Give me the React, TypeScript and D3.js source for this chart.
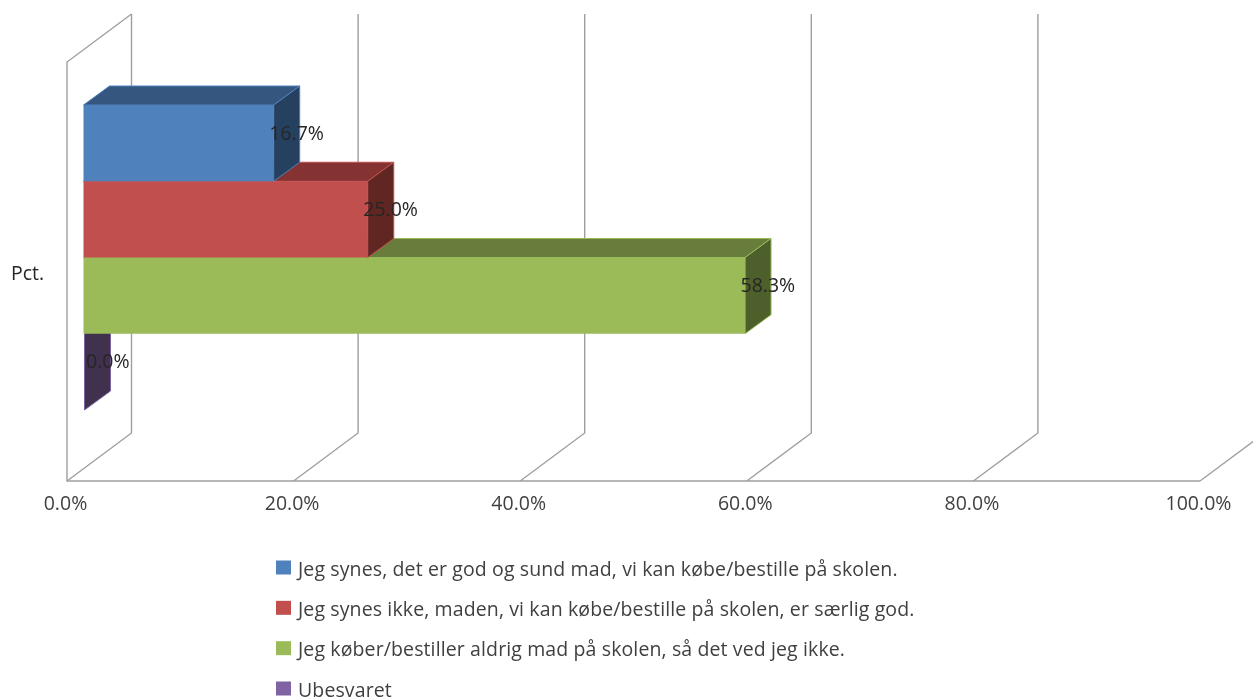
import React from "react";
import * as d3 from "d3";

const category = "Pct.";
const seriesNames = [
  "Jeg synes, det er god og sund mad, vi kan købe/bestille på skolen.",
  "Jeg synes ikke, maden, vi kan købe/bestille på skolen, er særlig god.",
  "Jeg køber/bestiller aldrig mad på skolen, så det ved jeg ikke.",
  "Ubesvaret",
];
const seriesValues = [16.7, 25.0, 58.3, 0.0];
const frontColors = ["#4F81BD", "#C0504D", "#9BBB59", "#8064A2"];
const topColors = ["#36567F", "#843232", "#687C3A", "#56436E"];
const sideColors = ["#263F5F", "#5F2524", "#4E5E2C", "#3F3050"];
const axisTicks = [0, 20, 40, 60, 80, 100];

const W = 1253;
const H = 699;
const font = "'Open Sans', 'Noto Sans', sans-serif";
const fontSize = 19.5;

const x = d3.scaleLinear().domain([0, 100]).range([67, 1200]);
const y = d3.scaleBand().domain(seriesNames).range([105, 410]);
const legendY = d3.scalePoint().domain(seriesNames).range([568, 689]);

const wallDx = 64.5;
const wallDy = -48;
const floorY = 481;
const wallTop = 62;
const barInset = 16.5;
const barDx = 26;
const barDy = -19;

const pts = (a: number[][]) => a.map((p) => p.join(",")).join(" ");

export default function App() {
  const grid = "#9F9F9F";
  const drawOrder = d3.range(seriesNames.length).reverse();
  return (
    <svg
      width={W}
      height={H}
      viewBox={`0 0 ${W} ${H}`}
      style={{ position: "absolute", left: 0, top: 0, background: "#fff" }}
    >
      <defs>
        <filter id="soft" x="-5%" y="-5%" width="110%" height="110%">
          <feGaussianBlur stdDeviation="0.5" />
        </filter>
      </defs>
      <g filter="url(#soft)">
        {/* walls */}
        <polyline
          points={pts([
            [x(0) + wallDx, wallTop + wallDy],
            [x(0), wallTop],
            [x(0), floorY],
            [x(100), floorY],
          ])}
          fill="none"
          stroke={grid}
          strokeWidth={1.4}
        />
        {axisTicks.map((t) => (
          <polyline
            key={t}
            points={pts([
              [x(t), floorY],
              [x(t) + wallDx, floorY + wallDy],
              [x(t) + wallDx, wallTop + wallDy],
            ])}
            fill="none"
            stroke={grid}
            strokeWidth={1.4}
          />
        ))}
        {/* bars */}
        {drawOrder.map((i) => {
          const name = seriesNames[i];
          const x0 = x(0) + barInset;
          const x1 = x(seriesValues[i]) + barInset + 1;
          const y0 = y(name)!;
          const y1 = y0 + y.bandwidth();
          const zero = seriesValues[i] === 0;
          return (
            <g key={name} stroke={frontColors[i]} strokeWidth={1} strokeLinejoin="round">
              {!zero && (
                <polygon
                  points={pts([
                    [x0, y0],
                    [x0 + barDx, y0 + barDy],
                    [x1 + barDx, y0 + barDy],
                    [x1, y0],
                  ])}
                  fill={topColors[i]}
                />
              )}
              <polygon
                points={pts([
                  [x1, y0],
                  [x1 + barDx, y0 + barDy],
                  [x1 + barDx, y1 + barDy],
                  [x1, y1],
                ])}
                fill={sideColors[i]}
              />
              {!zero && (
                <rect x={x0} y={y0} width={x1 - x0} height={y1 - y0} fill={frontColors[i]} stroke="none" />
              )}
            </g>
          );
        })}
        {/* data labels */}
        {seriesNames.map((name, i) => (
          <text
            key={name}
            x={x(seriesValues[i]) + (seriesValues[i] === 0 ? 19 : 13)}
            y={y(name)! + y.bandwidth() / 2 - 3.5}
            fontFamily={font}
            fontSize={fontSize}
            fill="#262626"
          >
            {seriesValues[i].toFixed(1)}%
          </text>
        ))}
        {/* axis labels */}
        {axisTicks.map((t) => (
          <text
            key={t}
            x={x(t) - 1.5}
            y={510}
            textAnchor="middle"
            fontFamily={font}
            fontSize={fontSize}
            fill="#404040"
          >
            {t.toFixed(1)}%
          </text>
        ))}
        <text x={11} y={280} fontFamily={font} fontSize={fontSize} fill="#262626">
          {category}
        </text>
        {/* legend */}
        {seriesNames.map((name, i) => (
          <g key={name}>
            <rect x={276} y={legendY(name)! - 7.5} width={15} height={14} fill={frontColors[i]} />
            <text
              x={298}
              y={legendY(name)! + 7.5}
              fontFamily={font}
              fontSize={fontSize}
              fill="#404040"
              letterSpacing={0.12}
            >
              {name}
            </text>
          </g>
        ))}
      </g>
    </svg>
  );
}
